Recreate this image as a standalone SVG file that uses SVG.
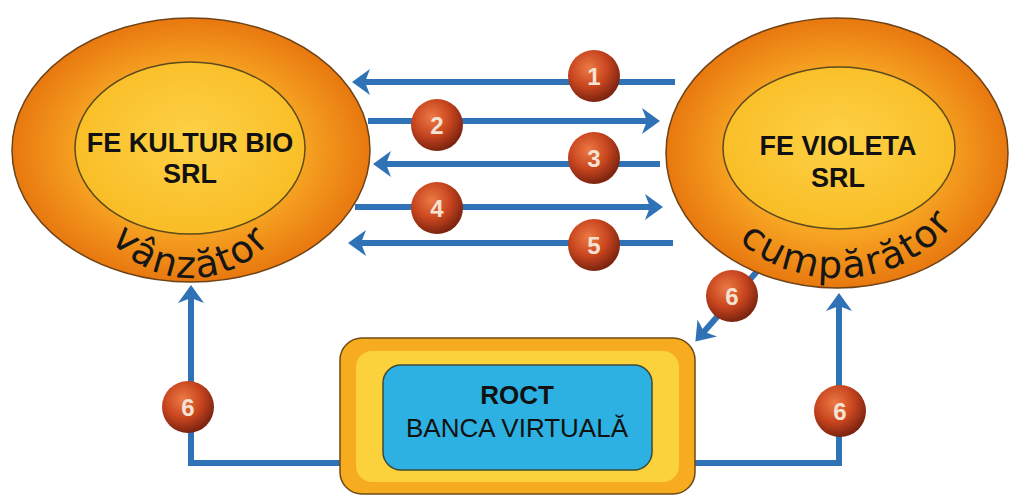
<svg xmlns="http://www.w3.org/2000/svg" width="1011" height="497" viewBox="0 0 1011 497">
  <style>
    .flow { fill: none; stroke: #2f72b6; stroke-width: 6; }
    .ring { stroke: #6e4318; stroke-width: 1.5; }
    .core { stroke: #5e4a1c; stroke-width: 1.5; }
    .name { font-family: "Liberation Sans", Arial, sans-serif; font-weight: bold; font-size: 27px; fill: #111; text-anchor: middle; }
    .role { font-family: "DejaVu Sans", Verdana, sans-serif; font-size: 38px; fill: #161616; letter-spacing: 2px; }
    .bank { font-family: "Liberation Sans", Arial, sans-serif; font-size: 26px; fill: #111; text-anchor: middle; }
    .num { font-family: "Liberation Sans", Arial, sans-serif; font-weight: bold; font-size: 24px; fill: #f6e2d2; text-anchor: middle; }
  </style>
  <defs>
    <radialGradient id="ringFill" cx="50%" cy="50%" r="50%">
      <stop offset="0.6" stop-color="#f7a623"/>
      <stop offset="1" stop-color="#e8780f"/>
    </radialGradient>
    <radialGradient id="coreFill" cx="50%" cy="45%" r="55%">
      <stop offset="0" stop-color="#fdd146"/>
      <stop offset="1" stop-color="#f9bd25"/>
    </radialGradient>
    <radialGradient id="ball" cx="40%" cy="35%" r="65%">
      <stop offset="0" stop-color="#ec7a45"/>
      <stop offset="0.55" stop-color="#c9461f"/>
      <stop offset="1" stop-color="#7c2410"/>
    </radialGradient>
    <marker id="head" viewBox="-1 -15 21 30" refX="8" refY="0" markerWidth="21" markerHeight="30" markerUnits="userSpaceOnUse" orient="auto">
      <path d="M0,-13 L18,0 L0,13 L5,0 Z" fill="#2f72b6"/>
    </marker>
    <path id="arcLeft" d="M77,150 A114,128 0 0 0 305,150"/>
    <path id="arcRight" d="M698,152 A140,126 0 0 0 978,152"/>
  </defs>

  <rect width="1011" height="497" fill="#ffffff"/>

  <!-- connectors -->
  <g id="connectors">
    <path class="flow" d="M675,82 H362" marker-end="url(#head)"/>
    <path class="flow" d="M368,121 H650" marker-end="url(#head)"/>
    <path class="flow" d="M660,164 H383" marker-end="url(#head)"/>
    <path class="flow" d="M355,207 H653" marker-end="url(#head)"/>
    <path class="flow" d="M673,243 H358" marker-end="url(#head)"/>
    <path class="flow" d="M760,268 L702,334" marker-end="url(#head)"/>
    <path class="flow" d="M340,463 H191 V295" marker-end="url(#head)"/>
    <path class="flow" d="M695,463 H839 V303" marker-end="url(#head)"/>
  </g>

  <!-- seller -->
  <g id="seller">
    <ellipse class="ring" cx="191" cy="150" rx="179" ry="132" fill="url(#ringFill)"/>
    <ellipse class="core" cx="190" cy="148" rx="115" ry="86" fill="url(#coreFill)"/>
    <text class="name" x="190" y="152">FE KULTUR BIO</text>
    <text class="name" x="190" y="183">SRL</text>
    <text class="role"><textPath href="#arcLeft" startOffset="50%" text-anchor="middle">vânzător</textPath></text>
  </g>

  <!-- buyer -->
  <g id="buyer">
    <ellipse class="ring" cx="837" cy="153" rx="171" ry="135" fill="url(#ringFill)"/>
    <ellipse class="core" cx="839" cy="148" rx="116" ry="81" fill="url(#coreFill)"/>
    <text class="name" x="838" y="155">FE VIOLETA</text>
    <text class="name" x="838" y="187">SRL</text>
    <text class="role"><textPath href="#arcRight" startOffset="53%" text-anchor="middle">cumpărător</textPath></text>
  </g>

  <!-- bank -->
  <g id="bank">
    <rect x="340" y="338" width="355" height="156" rx="22" fill="#f6ac1e" stroke="#6e4a16" stroke-width="1.5"/>
    <rect x="356" y="351" width="323" height="131" rx="16" fill="#fcd23c"/>
    <rect x="383" y="365" width="269" height="105" rx="18" fill="#2cb1e2" stroke="#3d4a3a" stroke-width="1.5"/>
    <text class="bank" x="517" y="404" font-weight="bold">ROCT</text>
    <text class="bank" x="517" y="437">BANCA VIRTUALĂ</text>
  </g>

  <!-- step badges -->
  <g id="step1"><circle cx="594" cy="76" r="26" fill="url(#ball)"/><text class="num" x="594" y="85">1</text></g>
  <g id="step2"><circle cx="437" cy="125" r="26" fill="url(#ball)"/><text class="num" x="437" y="134">2</text></g>
  <g id="step3"><circle cx="594" cy="158" r="26" fill="url(#ball)"/><text class="num" x="594" y="167">3</text></g>
  <g id="step4"><circle cx="437" cy="208" r="26" fill="url(#ball)"/><text class="num" x="437" y="217">4</text></g>
  <g id="step5"><circle cx="594" cy="245" r="26" fill="url(#ball)"/><text class="num" x="594" y="254">5</text></g>
  <g id="step6a"><circle cx="732" cy="296" r="26" fill="url(#ball)"/><text class="num" x="732" y="305">6</text></g>
  <g id="step6b"><circle cx="188" cy="407" r="26" fill="url(#ball)"/><text class="num" x="188" y="416">6</text></g>
  <g id="step6c"><circle cx="840" cy="411" r="26" fill="url(#ball)"/><text class="num" x="840" y="420">6</text></g>
</svg>
